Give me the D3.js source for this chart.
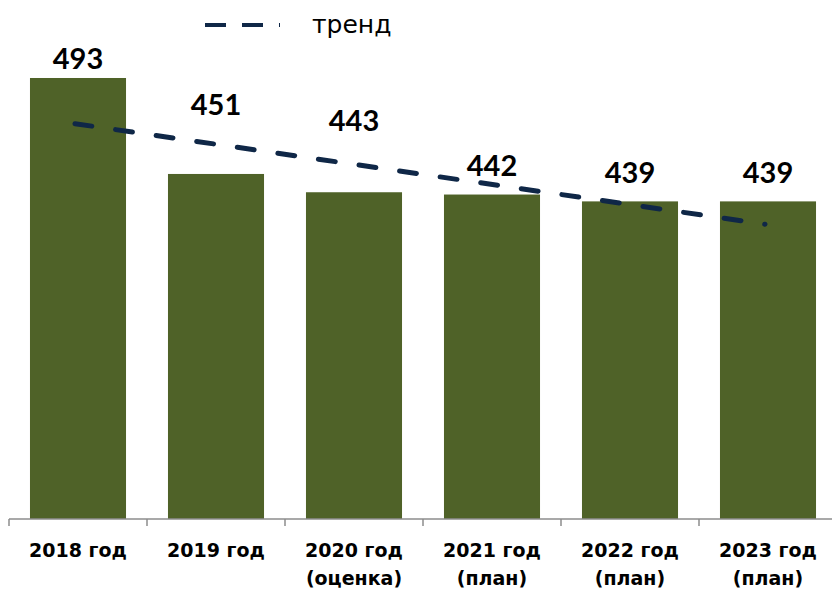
<!DOCTYPE html>
<html>
<head>
<meta charset="utf-8">
<script src="https://cdn.jsdelivr.net/npm/d3@7"></script>
<style>
  body { margin: 0; background: #fff; }
  text { font-family: "Century Gothic", "Lato", "Noto Sans", sans-serif; }
  .cat, .leg { font-family: "Century Gothic", "DejaVu Sans", sans-serif; }
</style>
</head>
<body>
<div id="chart"></div>
<script>
// data
var years = ["2018 год", "2019 год", "2020 год", "2021 год", "2022 год", "2023 год"];
var notes = ["", "", "(оценка)", "(план)", "(план)", "(план)"];
var values = [493, 451, 443, 442, 439, 439];
// where each value label sits, in data units (as on the original)
var labelLevels = [497, 477, 470, 450, 447, 447];
// trend line end points (first and last year)
var trendValues = [473, 429];

var width = 832, height = 593;
var margin = {top: 62, right: -5, bottom: 74, left: 9};

var svg = d3.select("#chart")
  .append("svg")
    .attr("width", width)
    .attr("height", height);

var x = d3.scaleBand()
  .domain(years)
  .range([margin.left, width - margin.right])
  .paddingInner(0.304)
  .paddingOuter(0.152);

var y = d3.scaleLinear()
  .domain([300, 500])
  .range([height - margin.bottom, margin.top]);

// bars
svg.append("g")
  .selectAll("rect")
  .data(values)
  .enter()
  .append("rect")
    .attr("x", function(d, i) { return x(years[i]); })
    .attr("y", function(d) { return y(d); })
    .attr("width", x.bandwidth())
    .attr("height", function(d) { return y(300) - y(d); })
    .style("fill", "#4f6228");

// x axis with ticks between categories
var axis = svg.append("g").attr("transform", "translate(0," + y(300) + ")");
axis.append("line")
  .attr("x1", margin.left).attr("x2", width)
  .attr("stroke", "#8c8c8c").attr("stroke-width", 1.5);
var edges = years.map(function(d) { return x(d) - x.step() * x.paddingInner() / 2; });
axis.selectAll(".tick")
  .data(edges)
  .enter()
  .append("line")
    .attr("x1", function(d) { return d; })
    .attr("x2", function(d) { return d; })
    .attr("y1", 0).attr("y2", 7)
    .attr("stroke", "#8c8c8c").attr("stroke-width", 1.5);

// category labels
var cat = svg.append("g")
  .selectAll("text")
  .data(years)
  .enter()
  .append("text")
    .attr("class", "cat")
    .attr("x", function(d) { return x(d) + x.bandwidth() / 2; })
    .attr("y", y(300) + 38)
    .attr("text-anchor", "middle")
    .style("font-size", "19px")
    .style("font-weight", "bold")
    .style("fill", "#000");
cat.append("tspan").text(function(d) { return d; });
cat.append("tspan")
  .attr("x", function(d) { return x(d) + x.bandwidth() / 2; })
  .attr("dy", 28)
  .text(function(d, i) { return notes[i]; });

// trend line
var trend = [{i: 0, v: trendValues[0]}, {i: years.length - 1, v: trendValues[1]}];
svg.append("path")
  .datum(trend)
  .attr("d", d3.line()
    .x(function(d) { return x(years[d.i]) + x.bandwidth() / 2 - 3; })
    .y(function(d) { return y(d.v); }))
  .attr("fill", "none")
  .attr("stroke", "#0f2747")
  .attr("stroke-width", 5)
  .attr("stroke-linecap", "round")
  .attr("stroke-dasharray", "17,24");

// value labels
svg.append("g")
  .selectAll("text")
  .data(values)
  .enter()
  .append("text")
    .attr("x", function(d, i) { return x(years[i]) + x.bandwidth() / 2; })
    .attr("y", function(d, i) { return y(labelLevels[i]); })
    .attr("text-anchor", "middle")
    .style("font-size", "29px")
    .style("font-weight", "bold")
    .style("fill", "#000")
    .text(function(d) { return d; });

// legend
var legend = svg.append("g");
legend.append("line")
  .attr("x1", 205).attr("x2", 280)
  .attr("y1", 25).attr("y2", 25)
  .attr("stroke", "#0f2747")
  .attr("stroke-width", 4)
  .attr("stroke-dasharray", "21,16");
legend.append("text")
  .attr("class", "leg")
  .attr("x", 312).attr("y", 33)
  .style("font-size", "25px")
  .style("fill", "#000")
  .text("тренд");
</script>
</body>
</html>
